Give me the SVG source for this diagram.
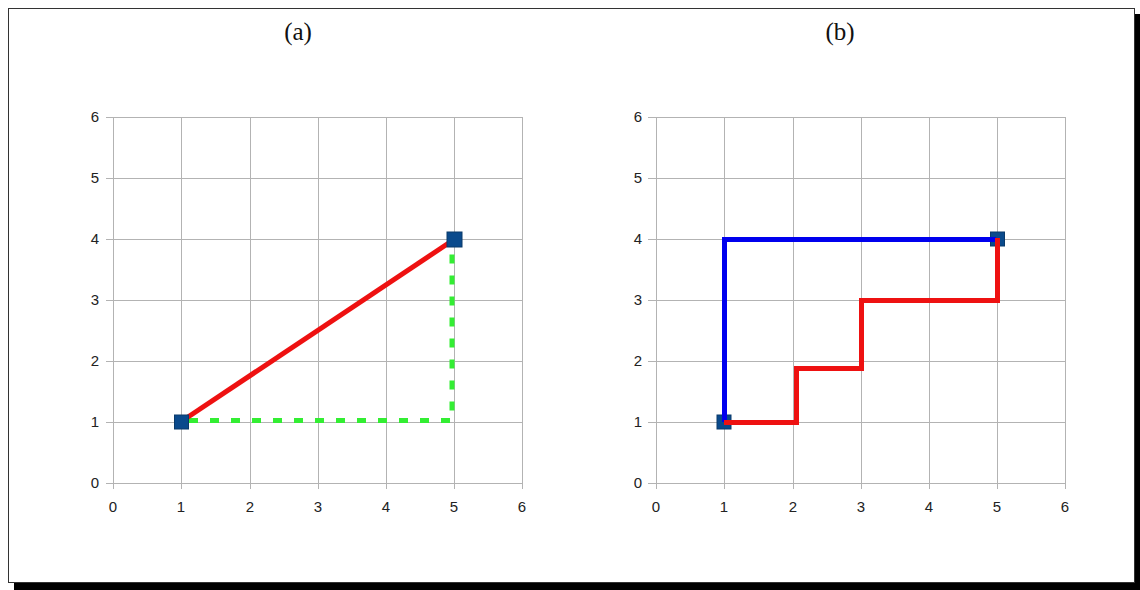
<svg xmlns="http://www.w3.org/2000/svg" width="1140" height="590" viewBox="0 0 1140 590">
<style>
.grid{stroke:#b3b3b3;stroke-width:1;fill:none}
.tick{font-family:"Liberation Sans",Arial,sans-serif;font-size:15px;fill:#222}
.title{font-family:"Liberation Serif","Times New Roman",serif;font-size:25px;fill:#111;text-anchor:middle}
.mk{fill:#0a4a8c;stroke:#0a3a6a;stroke-width:1}
.red{stroke:#ee1111;stroke-width:5;fill:none;stroke-linejoin:miter}
.blue{stroke:#0000ee;stroke-width:5;fill:none}
.green{stroke:#33ee33;stroke-width:5;fill:none;stroke-dasharray:9 12}
</style>
<rect x="0" y="0" width="1140" height="590" fill="#fff"/>
<rect x="14" y="583" width="1126" height="7" fill="#000"/>
<rect x="1135" y="14" width="5" height="576" fill="#000"/>
<rect x="8.5" y="8.5" width="1126" height="574" fill="#fff" stroke="#333" stroke-width="1"/>
<text class="title" x="298" y="40">(a)</text>
<text class="title" x="840" y="40">(b)</text>

<g id="chart-a">
<path class="grid" d="M113.5 117V489M181.5 117V489M250.5 117V489M318.5 117V489M386.5 117V489M454.5 117V489M522.5 117V489M106 117.5H522M106 178.5H522M106 239.5H522M106 300.5H522M106 361.5H522M106 422.5H522M106 483.5H522"/>
<g class="tick" text-anchor="end">
<text x="99" y="122">6</text><text x="99" y="183">5</text><text x="99" y="244">4</text><text x="99" y="305">3</text><text x="99" y="366">2</text><text x="99" y="427">1</text><text x="99" y="488">0</text>
</g>
<g class="tick" text-anchor="middle">
<text x="113" y="512">0</text><text x="181" y="512">1</text><text x="250" y="512">2</text><text x="318" y="512">3</text><text x="386" y="512">4</text><text x="454" y="512">5</text><text x="522" y="512">6</text>
</g>
</g>

<g id="chart-b">
<path class="grid" d="M656.5 117V489M724.5 117V489M793.5 117V489M861.5 117V489M929.5 117V489M997.5 117V489M1065.5 117V489M648 117.5H1065M648 178.5H1065M648 239.5H1065M648 300.5H1065M648 361.5H1065M648 422.5H1065M648 483.5H1065"/>
<g class="tick" text-anchor="end">
<text x="642" y="122">6</text><text x="642" y="183">5</text><text x="642" y="244">4</text><text x="642" y="305">3</text><text x="642" y="366">2</text><text x="642" y="427">1</text><text x="642" y="488">0</text>
</g>
<g class="tick" text-anchor="middle">
<text x="656" y="512">0</text><text x="724" y="512">1</text><text x="793" y="512">2</text><text x="861" y="512">3</text><text x="929" y="512">4</text><text x="997" y="512">5</text><text x="1065" y="512">6</text>
</g>
</g>

<g id="connectors">
<path class="green" d="M189 420.5H452V246"/>
<path class="red" d="M182 421L454 239.5"/>
<rect class="mk" x="724" y="415" width="14" height="14" transform="translate(-7 0)"/>
<rect class="mk" x="990.5" y="232" width="14" height="14"/>
<path class="blue" d="M724.5 422V239.5H996"/>
<path class="red" d="M724 422.5H796.5V368.5H861.5V300.5H997.5V238"/>
</g>
<g id="node-a1"><rect class="mk" x="174.5" y="415" width="14" height="14"/></g>
<g id="node-a2"><rect class="mk" x="447" y="232" width="15" height="15"/></g>
</svg>
